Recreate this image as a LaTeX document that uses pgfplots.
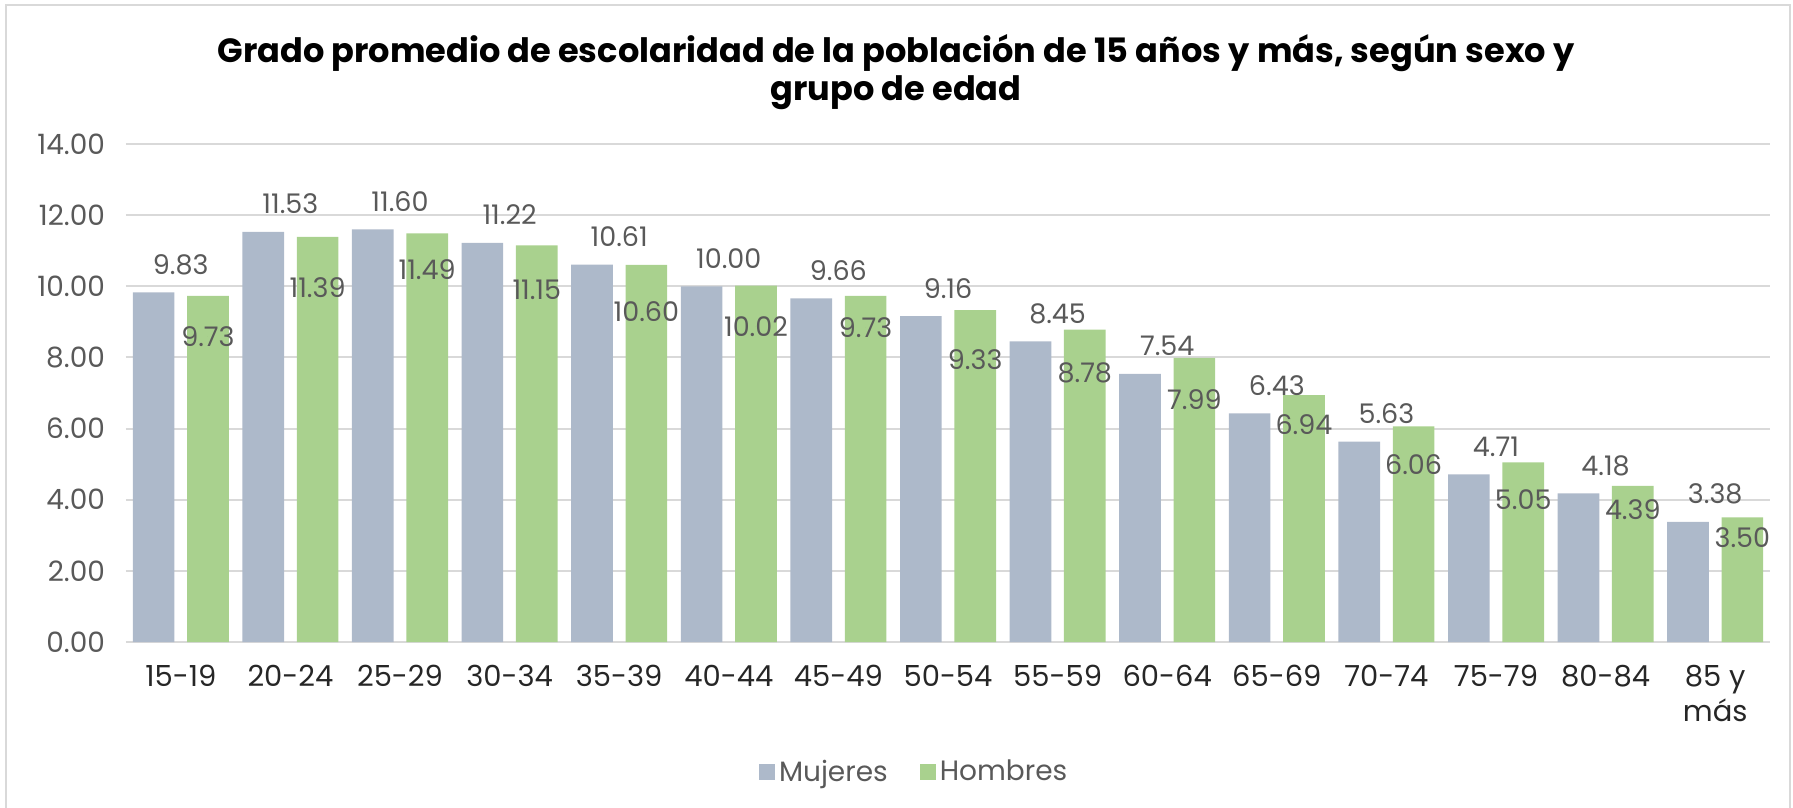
\documentclass[border=0pt]{standalone}
\usepackage{fontspec}
\setmainfont{Poppins}
\usepackage{pgfplots}
\usepackage{pgfplotstable}
\pgfplotsset{compat=1.18}

\definecolor{mujc}{HTML}{ADB9CA}
\definecolor{homc}{HTML}{A9D18E}
\definecolor{gridc}{HTML}{D9D9D9}
\definecolor{txtc}{HTML}{595959}
\definecolor{darkc}{HTML}{262626}

% x: grupo de edad, m: mujeres, h: hombres, hl: altura de la etiqueta de hombres
\pgfplotstableread{
x m h hl
0 9.83 9.73 8.58
1 11.53 11.39 9.96
2 11.60 11.49 10.46
3 11.22 11.15 9.90
4 10.61 10.60 9.28
5 10.00 10.02 8.86
6 9.66 9.73 8.83
7 9.16 9.33 7.93
8 8.45 8.78 7.56
9 7.54 7.99 6.81
10 6.43 6.94 6.10
11 5.63 6.06 4.98
12 4.71 5.05 4.00
13 4.18 4.39 3.71
14 3.38 3.50 2.93
}\datos

\begin{document}
\begin{tikzpicture}
\useasboundingbox (-63pt,-83pt) rectangle (833.5pt,321pt);
\draw[gridc, line width=1pt] (-60pt,-83pt) -- (-60pt,318.5pt) -- (832pt,318.5pt) -- (832pt,-83pt);

\node[font=\fontsize{16.8pt}{19pt}\selectfont\bfseries, text=black] at (385pt,294.5pt) {Grado promedio de escolaridad de la población de 15 años y más, según sexo y};
\node[font=\fontsize{16.8pt}{19pt}\selectfont\bfseries, text=black] at (385pt,274.5pt) {grupo de edad};

\begin{axis}[
  at={(0,0)}, anchor=south west,
  scale only axis, width=822pt, height=249pt,
  xmin=-0.5, xmax=14.5, ymin=0, ymax=14,
  axis line style={draw=none},
  major tick length=0pt,
  ymajorgrids, major grid style={gridc, line width=1pt},
  ytick={0,2,...,14},
  yticklabel style={font=\fontsize{14pt}{16pt}\selectfont, text=txtc, xshift=-7pt,
    /pgf/number format/.cd, fixed, fixed zerofill, precision=2, assume math mode=true},
  xtick={0,...,14},
  xticklabels={15-19,20-24,25-29,30-34,35-39,40-44,45-49,50-54,55-59,60-64,65-69,70-74,75-79,80-84,{85 y\\más}},
  xticklabel style={font=\fontsize{14.5pt}{17.5pt}\selectfont, text=darkc, align=center, yshift=-8pt},
  legend style={at={(0.48,-0.261)}, anchor=center, draw=none, fill=none,
    font=\fontsize{14pt}{16pt}\selectfont, text=txtc,
    legend columns=2, /tikz/every even column/.append style={column sep=14pt}},
  legend image code/.code={\fill[#1] (0pt,-4pt) rectangle (8pt,4pt);},
]
\addplot[ybar, bar width=0.38, bar shift=-0.248, fill=mujc, draw=none,
  nodes near coords, point meta=explicit symbolic,
  nodes near coords style={anchor=center, yshift=13.9pt, font=\fontsize{13.5pt}{15pt}\selectfont, text=txtc}]
  table[x=x, y=m, meta=m] {\datos};
\addlegendentry{Mujeres}
\addplot[ybar, bar width=0.38, bar shift=0.248, fill=homc, draw=none]
  table[x=x, y=h] {\datos};
\addlegendentry{Hombres}
\addplot[only marks, mark=*, mark size=0pt, mark options={draw=none, fill=none}, forget plot,
  nodes near coords, point meta=explicit symbolic,
  nodes near coords style={anchor=center, font=\fontsize{13.5pt}{15pt}\selectfont, text=txtc}]
  table[x expr=\thisrow{x}+0.248, y=hl, meta=h] {\datos};
\end{axis}
\end{tikzpicture}
\end{document}
